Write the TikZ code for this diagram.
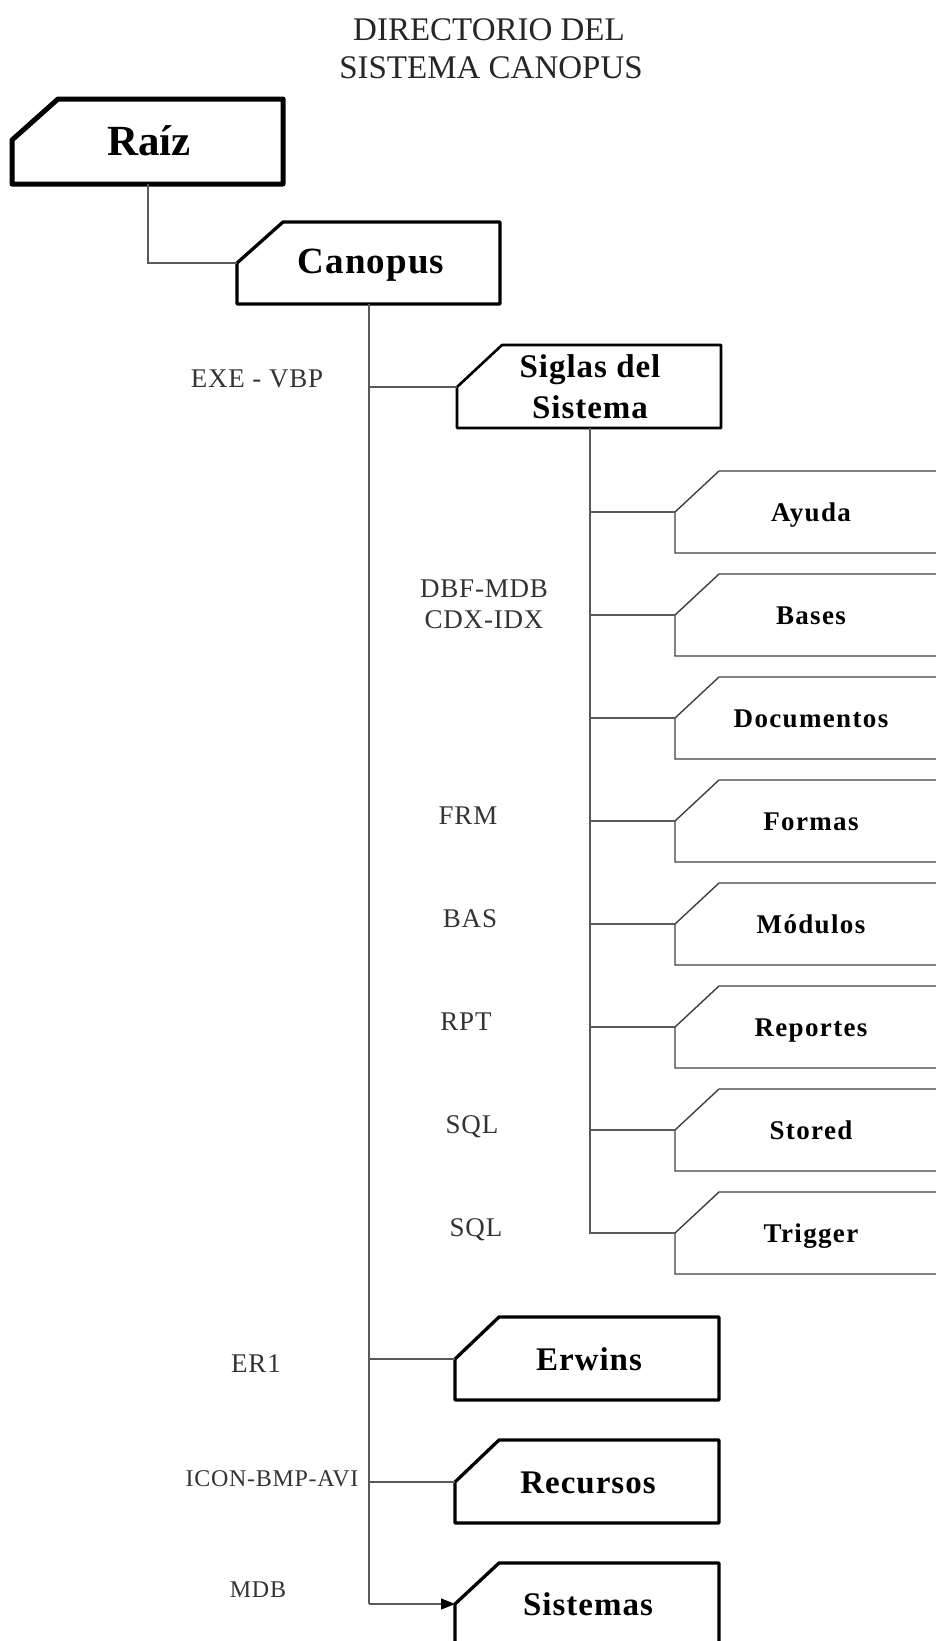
\documentclass[tikz,border=0pt]{standalone}
\usepackage{fontspec}
\setmainfont{Liberation Serif}
\newfontfamily\spacedserif[LetterSpace=5]{Liberation Serif}
\newfontfamily\lightspaced[LetterSpace=3]{Liberation Serif}
\usetikzlibrary{arrows.meta}
\begin{document}
\begin{tikzpicture}[x=1pt,y=-1pt,
  conn/.style={draw=black!65, line width=1.3pt},
  rootbox/.style={draw=black, line width=5pt, line join=round},
  mainbox/.style={draw=black, line width=3.3pt, line join=round},
  midbox/.style={draw=black, line width=2.6pt, line join=round},
  subbox/.style={draw=black!75, line width=1.4pt},
  boxtxt/.style={inner sep=0pt, text=black, font=\lightspaced\bfseries\fontsize{33}{39}\selectfont},
  subtxt/.style={inner sep=0pt, text=black, font=\spacedserif\bfseries\fontsize{27}{32}\selectfont},
  lbl/.style={inner sep=0pt, text=black!80, font=\lightspaced\fontsize{27}{31}\selectfont},
  smlbl/.style={inner sep=0pt, text=black!80, font=\lightspaced\fontsize{24}{28}\selectfont},
  ttl/.style={inner sep=0pt, text=black!85, font=\fontsize{33}{38}\selectfont}]
\useasboundingbox (0,0) rectangle (936,1641);
\clip (0,0) rectangle (936,1641);

% title
\node[ttl, anchor=base] (t1) at (489,40) {DIRECTORIO DEL};
\node[ttl, anchor=base] (t2) at (491,78) {SISTEMA CANOPUS};

% Raiz
\draw[rootbox] (12,140) -- (58,99) -- (283,99) -- (283,184) -- (12,184) -- cycle;
\node[inner sep=0pt, font=\bfseries\fontsize{43}{46}\selectfont, anchor=base] (raiz) at (149,155) {Raíz};
\coordinate (raizB) at (148,184);

% Canopus
\coordinate (canIn) at (237,263);
\draw[mainbox] (canIn) -- (283,222) -- (500,222) -- (500,304) -- (237,304) -- cycle;
\node[inner sep=0pt, font=\lightspaced\bfseries\fontsize{37}{40}\selectfont, anchor=base] (canopus) at (371,273) {Canopus};
\coordinate (canB) at (369,304);

% Siglas del Sistema
\coordinate (sigIn) at (457,387);
\draw[midbox] (sigIn) -- (502,345) -- (721,345) -- (721,428) -- (457,428) -- cycle;
\node[boxtxt, anchor=base] (siglas1) at (590,377) {Siglas del};
\node[boxtxt, anchor=base] (siglas2) at (590,418) {Sistema};
\coordinate (sigB) at (590,428);

% sub boxes
\foreach \nm/\txt/\b in {ayuda/Ayuda/512, bases/Bases/615, docs/Documentos/718, formas/Formas/821, modulos/Módulos/924, reportes/Reportes/1027, stored/Stored/1130, trigger/Trigger/1233}{
  \coordinate (\nm-in) at (675,\b);
  \draw[subbox] (940,{\b-41}) -- (719,{\b-41}) -- (\nm-in) -- (675,{\b+41}) -- (940,{\b+41});
  \node[subtxt, anchor=base] (\nm) at (811,{\b+9}) {\txt};
}

% Erwins, Recursos, Sistemas
\coordinate (erwIn) at (455,1359);
\draw[mainbox] (erwIn) -- (499,1317) -- (719,1317) -- (719,1400) -- (455,1400) -- cycle;
\node[boxtxt, anchor=base] (erwins) at (589,1370) {Erwins};
\coordinate (recIn) at (455,1482);
\draw[mainbox] (recIn) -- (499,1440) -- (719,1440) -- (719,1523) -- (455,1523) -- cycle;
\node[boxtxt, anchor=base] (recursos) at (588,1493) {Recursos};
\coordinate (sisIn) at (455,1604);
\draw[mainbox] (455,1670) -- (sisIn) -- (499,1563) -- (719,1563) -- (719,1670);
\node[boxtxt, anchor=base] (sistemas) at (588,1615) {Sistemas};

% connectors
\draw[conn] (raizB) |- (canIn);
\draw[conn] (canB) -- (canB |- sisIn);
\draw[conn, -{Triangle[length=14pt,width=11pt,fill=black,color=black]}] (canB |- sisIn) -- (sisIn);
\draw[conn] (canB |- sigIn) -- (sigIn);
\draw[conn] (canB |- erwIn) -- (erwIn);
\draw[conn] (canB |- recIn) -- (recIn);
\draw[conn] (sigB) |- (trigger-in);
\foreach \nm in {ayuda,bases,docs,formas,modulos,reportes,stored}{
  \draw[conn] (sigB |- \nm-in) -- (\nm-in);
}

% extension labels
\node[lbl, anchor=base] (lexe) at (257,387) {EXE - VBP};
\node[lbl, anchor=base] (ldbf) at (484,597) {DBF-MDB};
\node[lbl, anchor=base] (lcdx) at (484,628) {CDX-IDX};
\node[lbl, anchor=base] (lfrm) at (468,824) {FRM};
\node[lbl, anchor=base] (lbas) at (470,927) {BAS};
\node[lbl, anchor=base] (lrpt) at (466,1030) {RPT};
\node[lbl, anchor=base] (lsql1) at (472,1133) {SQL};
\node[lbl, anchor=base] (lsql2) at (476,1236) {SQL};
\node[lbl, anchor=base] (ler) at (256,1372) {ER1};
\node[smlbl, anchor=base] (licon) at (272,1486) {ICON-BMP-AVI};
\node[smlbl, anchor=base] (lmdb) at (258,1597) {MDB};
\end{tikzpicture}
\end{document}
